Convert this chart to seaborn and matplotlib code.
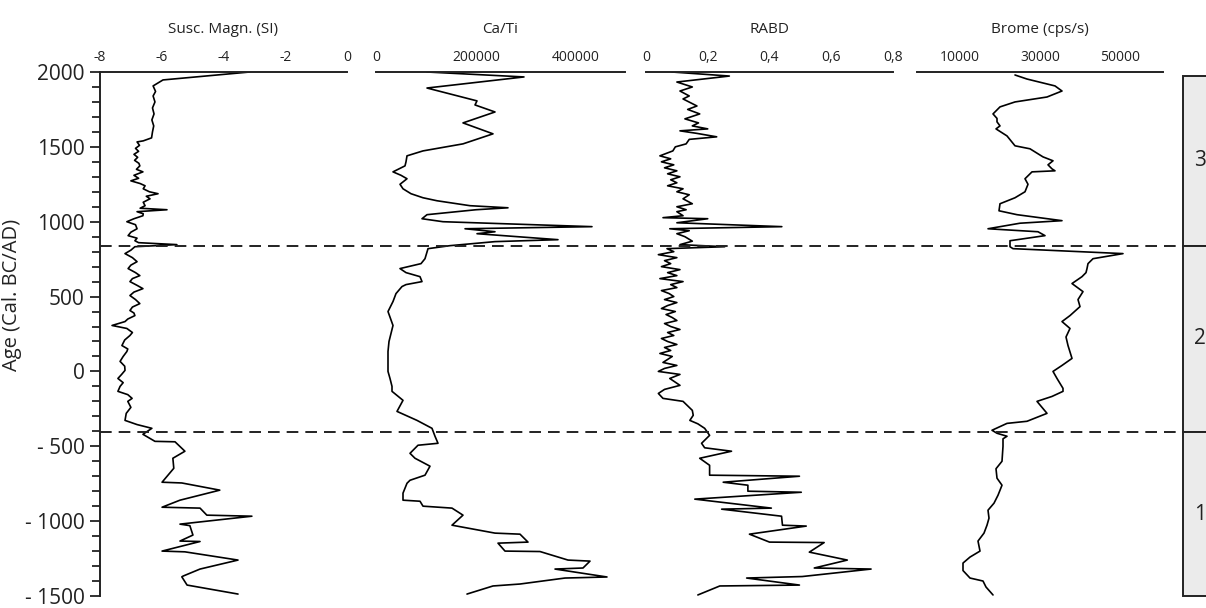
import matplotlib
matplotlib.use("Agg")
import matplotlib.pyplot as plt
import seaborn as sns

# Ages (Cal. BC/AD) et valeurs, par panneau
susc_age = [2000, 1947, 1907, 1870, 1840, 1800, 1760, 1720, 1680, 1640, 1600, 1560, 1540, 1533,
            1510, 1490, 1470, 1450, 1430, 1410, 1390, 1373, 1350, 1333, 1310, 1290, 1273, 1255,
            1240, 1220, 1200, 1187, 1170, 1153, 1130, 1107, 1090, 1080, 1067, 1053, 1040, 1020,
            1000, 980, 953, 930, 907, 890, 873, 860, 847, 833, 810, 787, 760, 733, 710, 687, 660,
            640, 620, 600, 575, 553, 530, 507, 480, 453, 430, 407, 390, 373, 350, 333, 307, 287,
            260, 240, 210, 173, 150, 133, 100, 67, 35, 7, -20, -47, -75, -100, -133, -155, -180,
            -200, -240, -280, -327, -355, -380, -420, -467, -470, -533, -580, -647, -740, -745,
            -793, -860, -907, -913, -960, -967, -1020, -1030, -1093, -1133, -1136, -1200, -1205,
            -1260, -1320, -1367, -1372, -1427, -1487]
susc_val = [-3.15, -5.96, -6.28, -6.2, -6.28, -6.22, -6.3, -6.25, -6.32, -6.26, -6.3, -6.33, -6.6,
            -6.8, -6.72, -6.85, -6.75, -6.9, -6.78, -6.88, -6.74, -6.71, -6.82, -6.61, -6.9, -6.75,
            -7.0, -6.7, -6.54, -6.6, -6.4, -6.12, -6.5, -6.38, -6.6, -6.54, -6.7, -5.83, -6.8,
            -6.6, -6.61, -6.9, -7.13, -6.85, -6.8, -7.0, -7.09, -6.8, -6.87, -6.75, -5.51, -6.87,
            -7.0, -7.19, -6.95, -6.8, -7.0, -7.09, -6.85, -6.71, -6.95, -7.03, -6.8, -6.61, -6.9,
            -7.03, -6.85, -6.71, -6.95, -7.03, -6.9, -6.87, -7.1, -7.19, -7.61, -7.13, -6.95,
            -7.03, -7.2, -7.29, -7.1, -7.13, -7.25, -7.35, -7.2, -7.19, -7.3, -7.42, -7.25, -7.35,
            -7.42, -7.1, -6.96, -7.1, -7.0, -7.15, -7.19, -6.8, -6.32, -6.61, -6.22, -5.57, -5.25,
            -5.64, -5.61, -5.99, -5.35, -4.12, -5.41, -5.99, -4.76, -4.54, -3.08, -5.41, -5.09,
            -4.99, -5.41, -4.76, -5.99, -5.25, -3.53, -4.76, -5.31, -5.35, -5.18, -3.53]

cati_age = [2000, 1967, 1893, 1807, 1780, 1733, 1660, 1587, 1520, 1473, 1440, 1400, 1373, 1333,
            1310, 1287, 1250, 1220, 1187, 1160, 1140, 1107, 1093, 1080, 1047, 1020, 1000, 967,
            953, 933, 920, 880, 867, 840, 820, 753, 720, 687, 660, 633, 600, 580, 567, 520, 467,
            400, 307, 200, 133, 0, -47, -100, -133, -193, -267, -327, -380, -433, -480, -493,
            -547, -580, -633, -693, -727, -747, -813, -860, -867, -900, -913, -960, -1027, -1080,
            -1087, -1140, -1147, -1200, -1203, -1260, -1267, -1313, -1320, -1373, -1380, -1420,
            -1433, -1487]
cati_val = [102000, 296000, 102000, 202000, 198000, 238000, 174000, 234000, 174000, 94000, 62000,
            60000, 58000, 34000, 50000, 62000, 48000, 54000, 70000, 94000, 122000, 188000, 264000,
            200000, 102000, 92000, 134000, 432000, 178000, 238000, 202000, 364000, 238000, 148000,
            104000, 98000, 90000, 48000, 60000, 88000, 92000, 60000, 52000, 40000, 34000, 24000,
            34000, 26000, 24000, 24000, 28000, 32000, 32000, 54000, 42000, 82000, 112000, 118000,
            124000, 84000, 68000, 78000, 108000, 98000, 68000, 62000, 54000, 54000, 88000, 94000,
            152000, 174000, 152000, 238000, 288000, 304000, 244000, 258000, 328000, 384000,
            428000, 414000, 358000, 462000, 378000, 288000, 234000, 182000]

rabd_age = [2000, 1973, 1933, 1900, 1873, 1840, 1820, 1773, 1750, 1720, 1687, 1660, 1640, 1620,
            1607, 1590, 1567, 1550, 1520, 1500, 1473, 1440, 1420, 1400, 1380, 1360, 1340, 1320,
            1300, 1280, 1260, 1240, 1220, 1200, 1180, 1153, 1120, 1100, 1080, 1067, 1040, 1027,
            1020, 993, 967, 953, 940, 920, 900, 870, 847, 833, 820, 800, 780, 760, 740, 720, 700,
            680, 660, 640, 620, 600, 580, 560, 540, 520, 500, 480, 460, 440, 420, 400, 380, 360,
            340, 320, 300, 280, 260, 240, 220, 200, 180, 160, 140, 120, 100, 80, 60, 40, 20, 0,
            -20, -47, -93, -120, -147, -180, -200, -260, -293, -327, -350, -380, -427, -480, -510,
            -533, -580, -627, -693, -700, -740, -760, -800, -807, -853, -913, -920, -960, -967,
            -1027, -1033, -1087, -1140, -1143, -1207, -1260, -1313, -1320, -1370, -1380, -1427,
            -1433, -1493]
rabd_val = [0.084, 0.27, 0.10, 0.15, 0.11, 0.14, 0.12, 0.165, 0.135, 0.174, 0.126, 0.17, 0.15,
            0.2, 0.11, 0.165, 0.229, 0.14, 0.13, 0.095, 0.087, 0.045, 0.08, 0.05, 0.09, 0.06,
            0.1, 0.07, 0.11, 0.08, 0.1, 0.07, 0.12, 0.1, 0.14, 0.12, 0.15, 0.1, 0.13, 0.1, 0.12,
            0.055, 0.2, 0.1, 0.44, 0.077, 0.14, 0.1, 0.126, 0.15, 0.11, 0.255, 0.068, 0.09, 0.04,
            0.1, 0.06, 0.08, 0.05, 0.11, 0.07, 0.1, 0.045, 0.12, 0.08, 0.1, 0.05, 0.075, 0.09,
            0.06, 0.1, 0.07, 0.05, 0.095, 0.065, 0.085, 0.1, 0.06, 0.08, 0.11, 0.07, 0.09, 0.05,
            0.07, 0.1, 0.06, 0.08, 0.045, 0.085, 0.07, 0.055, 0.1, 0.06, 0.04, 0.11, 0.077, 0.11,
            0.06, 0.04, 0.055, 0.12, 0.15, 0.153, 0.142, 0.168, 0.19, 0.206, 0.18, 0.19, 0.277,
            0.174, 0.206, 0.206, 0.497, 0.25, 0.33, 0.33, 0.503, 0.158, 0.406, 0.245, 0.41, 0.439,
            0.442, 0.519, 0.335, 0.40, 0.577, 0.529, 0.652, 0.545, 0.729, 0.506, 0.326, 0.497,
            0.239, 0.168]

brome_age = [1980, 1953, 1907, 1873, 1833, 1800, 1767, 1720, 1690, 1667, 1640, 1620, 1573, 1507,
             1487, 1433, 1407, 1380, 1353, 1340, 1333, 1287, 1250, 1200, 1160, 1120, 1073, 1047,
             1007, 990, 953, 933, 907, 873, 833, 820, 787, 753, 720, 687, 660, 633, 587, 533, 480,
             433, 373, 333, 287, 230, 173, 87, 40, 0, -47, -113, -133, -167, -200, -240, -280,
             -333, -347, -393, -413, -433, -450, -500, -600, -650, -713, -760, -827, -880, -927,
             -980, -1027, -1080, -1133, -1200, -1240, -1280, -1330, -1380, -1400, -1440, -1493]
brome_val = [23750, 26750, 33750, 35500, 31750, 23750, 20000, 18250, 19250, 19250, 20000, 19000,
             21750, 23750, 27500, 30750, 33250, 32000, 33000, 33750, 28000, 26250, 27000, 26250,
             23750, 20000, 19750, 24250, 35500, 25000, 17000, 29500, 31250, 22500, 22500, 23250,
             50750, 43250, 42000, 41750, 41500, 40500, 38000, 40750, 39500, 40000, 37500, 35500,
             37500, 36500, 37000, 38000, 35500, 33250, 34250, 35750, 35750, 33000, 29250, 30500,
             31750, 26750, 21750, 18000, 19250, 21750, 20750, 20750, 20500, 19000, 19250, 20500,
             19500, 18500, 17000, 17250, 16750, 16000, 14500, 15000, 12500, 10750, 10750, 12500,
             15750, 16500, 18250]

titles = ["Susc. Magn. (SI)", "Ca/Ti", "RABD", "Brome (cps/s)"]
xticks = [[-8, -6, -4, -2, 0], [0, 200000, 400000], [0, 0.2, 0.4, 0.6, 0.8], [10000, 30000, 50000]]
xticklabels = [["-8", "-6", "-4", "-2", "0"], ["0", "200000", "400000"],
               ["0", "0,2", "0,4", "0,6", "0,8"], ["10000", "30000", "50000"]]
xlims = [(-8, 0), (0, 498000), (0, 0.8), (-750, 60750)]

age_ticks = [-1500, -1000, -500, 0, 500, 1000, 1500, 2000]
age_labels = ["- 1500", "- 1000", "- 500", "0", "500", "1000", "1500", "2000"]

zone_bounds = [1975, 840, -405, -1500]
zone_names = ["3", "2", "1"]

sns.set_style("white")
plt.rcParams['font.family'] = ['Open Sans', 'DejaVu Sans']

W, H = 1206, 608
fig = plt.figure(figsize=(W / 100, H / 100), dpi=100)


def box(x0, x1, y0=72, y1=596):
    return [x0 / W, 1 - y1 / H, (x1 - x0) / W, (y1 - y0) / H]


panel_x = [(100, 347), (376, 625), (646, 893), (917, 1163)]
series = [(susc_age, susc_val), (cati_age, cati_val), (rabd_age, rabd_val), (brome_age, brome_val)]

for i, (x0, x1) in enumerate(panel_x):
    ax = fig.add_axes(box(x0, x1))
    ages, vals = series[i]
    sns.lineplot(x=vals, y=ages, sort=False, estimator=None, color="black", linewidth=1.2, ax=ax)
    ax.set_xlim(*xlims[i])
    ax.set_ylim(-1500, 2000)
    ax.xaxis.tick_top()
    ax.set_xticks(xticks[i])
    ax.set_xticklabels(xticklabels[i])
    ax.tick_params(axis="x", top=True, bottom=False, labeltop=True, labelbottom=False,
                   direction="out", length=3, width=1.1, labelsize=10, pad=2, colors="#222222")
    ax.set_xlabel("")
    ax.set_title(titles[i], fontsize=11, pad=12, color="#222222")
    sns.despine(ax=ax, top=False, bottom=True, right=True, left=(i != 0))
    ax.spines["top"].set_linewidth(1.4)
    ax.spines["top"].set_color("#222222")
    if i == 0:
        ax.set_yticks(age_ticks)
        ax.set_yticklabels(age_labels)
        ax.set_yticks(range(-1500, 2001, 100), minor=True)
        ax.tick_params(axis="y", which="both", left=True, direction="out", width=1.3,
                       colors="#222222")
        ax.tick_params(axis="y", which="major", length=7, labelsize=15, pad=4)
        ax.tick_params(axis="y", which="minor", length=6)
        ax.spines["left"].set_linewidth(1.4)
        ax.spines["left"].set_color("#222222")
        ax.set_ylabel("Age (Cal. BC/AD)", fontsize=14.5, color="#222222")
        ax.yaxis.set_label_coords(-0.315, 0.575)
    else:
        ax.set_yticks([])
        ax.set_ylabel("")
    ax.patch.set_alpha(0)

# Zones
zax = fig.add_axes(box(1183, 1240, 72, 596))
zax.set_ylim(-1500, 2000)
zax.set_xlim(0, 1)
zax.axis("off")
for k, name in enumerate(zone_names):
    hi, lo = zone_bounds[k], zone_bounds[k + 1]
    zax.axhspan(lo, hi, facecolor="#ebebeb", edgecolor="#222222", linewidth=1.4, clip_on=False)
    zax.text(0.3, (hi + lo) / 2, name, fontsize=15, ha="center", va="center", color="#222222")

# Limites de zones en tirets
dax = fig.add_axes(box(100, 1183))
dax.set_ylim(-1500, 2000)
dax.axis("off")
for b in zone_bounds[1:3]:
    dax.axhline(b, color="#222222", linewidth=1.4, linestyle=(0, (6, 3.6)))

fig.savefig("out.png", dpi=100)
